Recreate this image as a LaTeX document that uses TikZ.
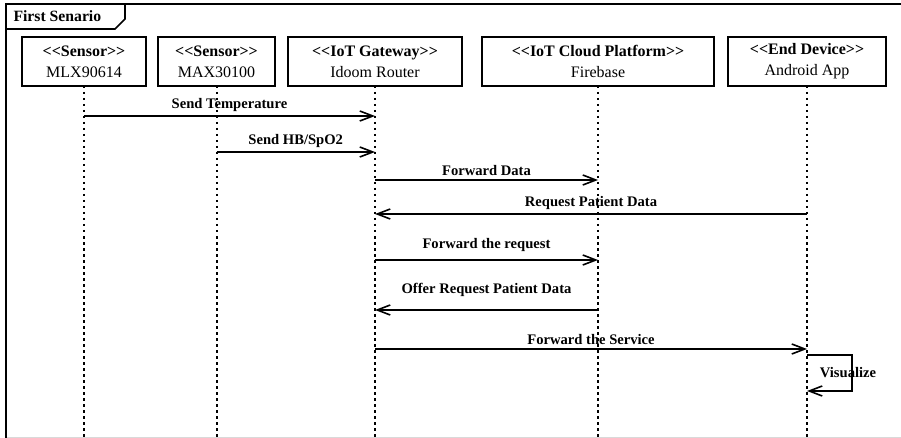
\documentclass[tikz,border=0pt]{standalone}
\usepackage{fontspec}
\setmainfont{Liberation Serif}
\usetikzlibrary{arrows.meta,positioning,calc}

\newcommand{\stereo}[1]{\textbf{<\kern0pt<#1>\kern0pt>}}

\begin{document}
\begin{tikzpicture}[
  x=1pt, y=-1pt,
  font=\fontsize{14.6}{17}\selectfont,
  >={Straight Barb[length=13pt,width=10pt]},
  head/.style={draw, line width=1.6pt, outer sep=0pt, minimum height=49pt, align=center, inner sep=0pt, font=\fontsize{16}{21}\selectfont},
  lifeline/.style={line width=2pt, dash pattern=on 2.5pt off 3.5pt},
  msg/.style={->, line width=1.6pt},
  msglabel/.style={font=\fontsize{14.6}{17}\selectfont\bfseries},
]
\useasboundingbox (0,0) rectangle (901,438);

% Frame with tab
\draw[black!15, line width=1pt] (6,437) -- (901,437);
\draw[line width=1.6pt] (901,4) -- (6,4) -- (6,438);
\draw[line width=1.6pt] (125,4) -- (125,19) -- (115,29) -- (6,29);
\node[anchor=west, font=\fontsize{15.7}{18}\selectfont\bfseries] (title) at (10,16) {First Senario};

% Lifeline heads
\node[head, minimum width=124pt]                   (MLX)   at (84,61.5) {\stereo{Sensor}\\MLX90614};
\node[head, minimum width=117pt, right=12pt of MLX] (MAX)   {\stereo{Sensor}\\MAX30100};
\node[head, minimum width=174pt, right=13pt of MAX] (GW)    {\stereo{IoT Gateway}\\Idoom Router};
\node[head, minimum width=232pt, right=20pt of GW]  (Cloud) {\stereo{IoT Cloud Platform}\\Firebase};
\node[head, minimum width=158pt, right=14pt of Cloud] (App) {\stereo{End Device}\\Android App};

% Lifelines
\foreach \n in {MLX,MAX,GW,Cloud,App}
  \draw[lifeline] (\n.south) -- (\n.south |- 0,438);

% Messages
\draw[msg] (MLX |- 0,116) -- node[msglabel, above]{Send Temperature} (GW |- 0,116);
\draw[msg] (MAX |- 0,152) -- node[msglabel, above]{Send HB/SpO2} (GW |- 0,152);
\draw[msg] (GW |- 0,180) -- node[msglabel, above]{Forward Data} (Cloud |- 0,180);
\draw[msg] (App |- 0,214) -- node[msglabel, above]{Request Patient Data} (GW |- 0,214);
\draw[msg] (GW |- 0,260) -- node[msglabel, above=4pt]{Forward the request} (Cloud |- 0,260);
\draw[msg] (Cloud |- 0,310) -- node[msglabel, above=9pt]{Offer Request Patient Data} (GW |- 0,310);
\draw[msg] (GW |- 0,349) -- node[msglabel, above]{Forward the Service} (App |- 0,349);

% Self message
\draw[msg] (App |- 0,355) -- ++(45,0) |- node[msglabel, pos=0.25, xshift=-4pt]{Visualize} (App |- 0,391);

\end{tikzpicture}
\end{document}
